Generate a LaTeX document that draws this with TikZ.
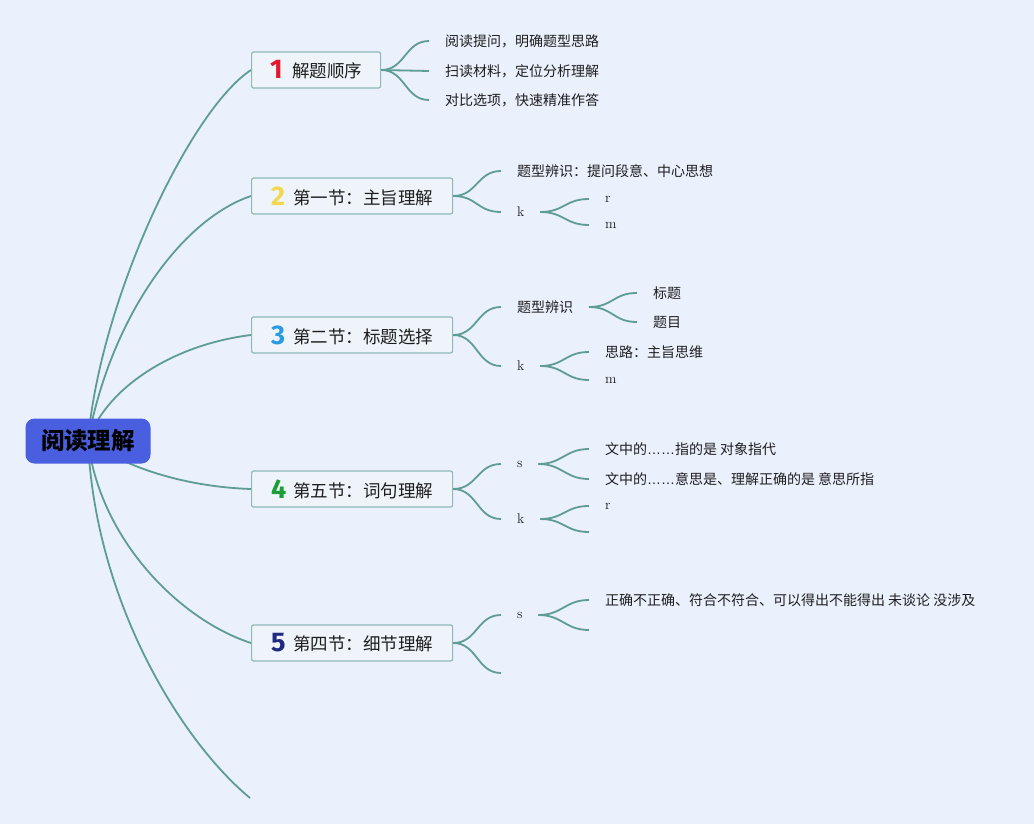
\documentclass[tikz,border=0pt]{standalone}
\usepackage{fontspec}
\newfontfamily\cjk{Noto Sans CJK SC}
\newfontfamily\numfont{Fira Sans}
\newfontfamily\latfont{Liberation Sans}
\definecolor{bgc}{HTML}{EAF0FC}
\definecolor{rootc}{HTML}{4A5FE0}
\definecolor{linec}{HTML}{5E9C96}
\definecolor{boxfill}{HTML}{EFF4FA}
\definecolor{boxline}{HTML}{8DB9B9}
\definecolor{nred}{HTML}{E3172E}
\definecolor{nyellow}{HTML}{F3D74C}
\definecolor{nblue}{HTML}{2A9BE3}
\definecolor{ngreen}{HTML}{1B9E35}
\definecolor{nnavy}{HTML}{1D2A7E}
\definecolor{txt}{HTML}{1E1E1E}
\pgfdeclarelayer{back}
\pgfsetlayers{back,main}
\tikzset{
  conn/.style={draw=linec, line width=1.8pt},
  rootbox/.style={fill=rootc, rounded corners=9pt, minimum width=125pt, minimum height=45pt, inner sep=0pt, text=black, font=\cjk\bfseries\fontsize{23.5}{26}\selectfont},
  topic/.style={draw=boxline, fill=boxfill, line width=1.2pt, rounded corners=2pt, minimum height=36pt, anchor=west, inner sep=0pt, text=txt, font=\cjk\fontsize{17.5}{20}\selectfont},
  leaf/.style={anchor=west, inner ysep=0pt, inner xsep=0pt, outer xsep=16pt, outer ysep=0pt, text=txt, font=\cjk\fontsize{14}{16}\selectfont},
  letter/.style={leaf, font=\rmfamily\fontsize{14}{16}\selectfont},
}
\newcommand\numg[2]{\makebox[18pt][l]{\raisebox{-1pt}{\numfont\bfseries\fontsize{27}{27}\selectfont\color{#1}#2}}\hspace{4pt}}
\newcommand\brn[2]{\draw[conn] (#1) .. controls +(24,0) and +(-24,0) .. (#2);}
\newcommand\dts{{\latfont ……}}
\begin{document}
\begin{tikzpicture}[x=1pt,y=-1pt]
\useasboundingbox (0,0) rectangle (1034,824);
% root
\node[rootbox] (root) at (88,441) {阅读理解};
% topics
\node[topic, minimum width=129pt] (t1) at (251,70) {\numg{nred}{1}解题顺序};
\node[topic, minimum width=201pt] (t2) at (251,196) {\numg{nyellow}{2}第一节：主旨理解};
\node[topic, minimum width=201pt] (t3) at (251,335) {\numg{nblue}{3}第二节：标题选择};
\node[topic, minimum width=201pt] (t4) at (251,489) {\numg{ngreen}{4}第五节：词句理解};
\node[topic, minimum width=201pt] (t5) at (251,643) {\numg{nnavy}{5}第四节：细节理解};
\coordinate (t6) at (250,798);
% topic 1 leaves
\node[leaf] (a1) at (429,41) {阅读提问，明确题型思路};
\node[leaf] (a2) at (429,71) {扫读材料，定位分析理解};
\node[leaf] (a3) at (429,100) {对比选项，快速精准作答};
% topic 2
\node[leaf] (b1) at (501,171) {题型辨识：提问段意、中心思想};
\node[letter] (b2) at (501,212) {k};
\node[letter] (b21) at (589,199) {r};
\node[letter] (b22) at (589,225) {m};
% topic 3
\node[leaf] (c1) at (501,307) {题型辨识};
\node[leaf] (c11) at (637,293) {标题};
\node[leaf] (c12) at (637,322) {题目};
\node[letter] (c2) at (501,366) {k};
\node[leaf] (c21) at (589,352) {思路：主旨思维};
\node[letter] (c22) at (589,380) {m};
% topic 4
\node[letter] (d1) at (501,464) {s};
\node[leaf] (d11) at (589,449) {文中的\dts 指的是 对象指代};
\node[leaf] (d12) at (589,479) {文中的\dts 意思是、理解正确的是 意思所指};
\node[letter] (d2) at (501,519) {k};
\node[letter] (d21) at (589,506) {r};
\coordinate (d22) at (589,532);
% topic 5
\node[letter] (e1) at (501,615) {s};
\node[leaf] (e11) at (589,600) {正确不正确、符合不符合、可以得出不能得出 未谈论 没涉及};
\coordinate (e12) at (589,630);
\coordinate (e2) at (501,673);
\begin{pgfonlayer}{back}
\fill[bgc] (0,0) rectangle (1034,824);
% root to topics
\draw[conn] (root.center) .. controls (100,300) and (190,110) .. (t1.west);
\draw[conn] (root.center) .. controls (110,320) and (180,220) .. (t2.west);
\draw[conn] (root.center) .. controls (105,390) and (170,345) .. (t3.west);
\draw[conn] (root.center) .. controls (130,470) and (190,487) .. (t4.west);
\draw[conn] (root.center) .. controls (100,540) and (180,620) .. (t5.west);
\draw[conn] (root.center) .. controls (95,600) and (180,740) .. (t6);
% topic branches
\brn{t1.east}{a1.west}\brn{t1.east}{a2.west}\brn{t1.east}{a3.west}
\brn{t2.east}{b1.west}\brn{t2.east}{b2.west}
\brn{b2.east}{b21.west}\brn{b2.east}{b22.west}
\brn{t3.east}{c1.west}\brn{t3.east}{c2.west}
\brn{c1.east}{c11.west}\brn{c1.east}{c12.west}
\brn{c2.east}{c21.west}\brn{c2.east}{c22.west}
\brn{t4.east}{d1.west}\brn{t4.east}{d2.west}
\brn{d1.east}{d11.west}\brn{d1.east}{d12.west}
\brn{d2.east}{d21.west}\brn{d2.east}{d22}
\brn{t5.east}{e1.west}\brn{t5.east}{e2}
\brn{e1.east}{e11.west}\brn{e1.east}{e12}
\end{pgfonlayer}
\end{tikzpicture}
\end{document}
